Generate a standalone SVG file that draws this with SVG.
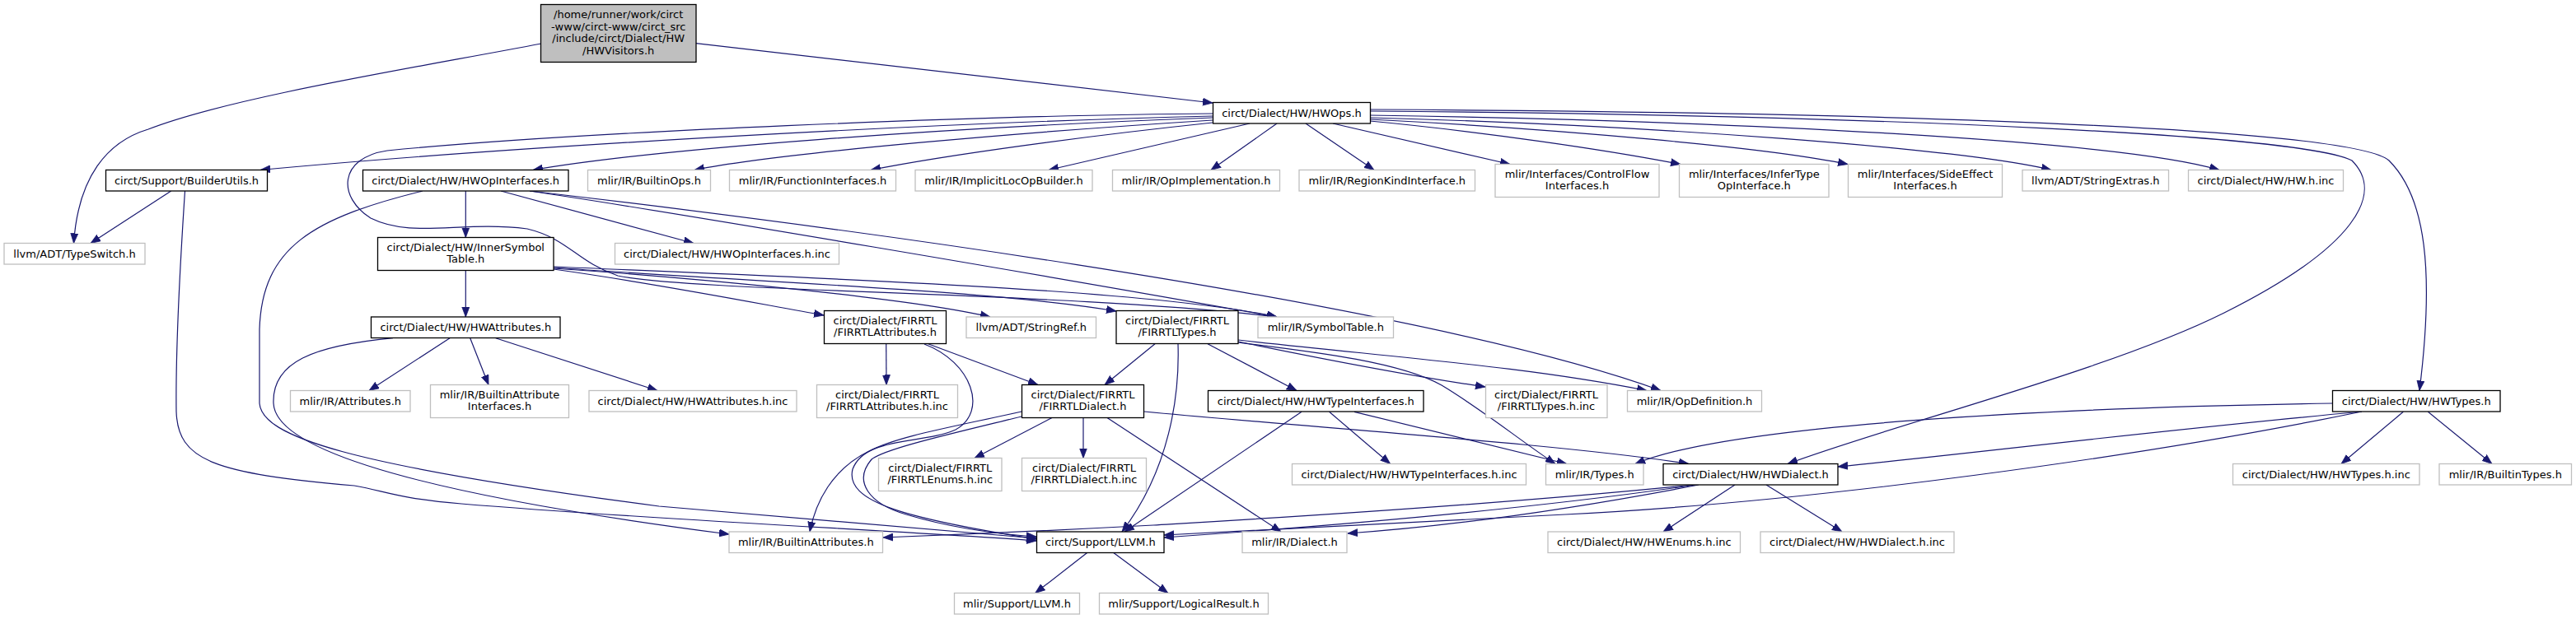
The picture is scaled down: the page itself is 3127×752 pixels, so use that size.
<svg xmlns="http://www.w3.org/2000/svg" width="3127" height="752" viewBox="0 0 3127 752">
<style>
text{font-family:"DejaVu Sans","Liberation Sans",sans-serif;font-size:13px;text-anchor:middle;fill:#000}
.n rect{fill:#fff;stroke:#000;stroke-width:1.3}
.g rect{fill:#fff;stroke:#bfbfbf;stroke-width:1.3}
.r rect{fill:#bfbfbf;stroke:#000;stroke-width:1.3}
#edges path{fill:none;stroke:#191970;stroke-width:1.2;marker-end:url(#a)}
</style>
<defs>
<marker id="a" markerUnits="userSpaceOnUse" markerWidth="12" markerHeight="10" viewBox="0 0 12 10" refX="12" refY="5" orient="auto">
<path d="M0,0.5 L12,5 L0,9.5 z" fill="#191970" stroke="#191970" stroke-width="0.8"/>
</marker>
</defs>
<rect width="3127" height="752" fill="#fff"/>
<g id="edges">
<path d="M657,53 C 500,83 280,118 180,157 C 130,172 95,215 89.5,295.5"/>
<path d="M845,52.7 L1472,125"/>
<path d="M1472,141 C 1100,150 600,180 316,206.5"/>
<path d="M1472,138 C 1200,140 700,160 470,183 C 410,192 410,240 450,265 C 500,290 560,268 640,278 C 690,290 700,318 750,335 C 850,355 1300,355 1550,385"/>
<path d="M1472,143 C 1150,155 800,180 647,206.5"/>
<path d="M1472,146 C 1250,160 950,185 843,206.5"/>
<path d="M1472,149 C 1320,165 1150,188 1057,206.5"/>
<path d="M1517,150 L1273,206.5"/>
<path d="M1550,150 L1470,206.5"/>
<path d="M1585,150 L1668,206.5"/>
<path d="M1618,150 L1833,199.5"/>
<path d="M1663,147 C 1800,160 1950,182 2040,199.5"/>
<path d="M1663,145 C 1900,157 2150,180 2243,199.5"/>
<path d="M1663,143 C 2000,152 2380,180 2490,206.5"/>
<path d="M1663,140 C 2100,147 2570,170 2694,206.5"/>
<path d="M1663,135 C 2300,140 2800,165 2855,195 C 2895,235 2860,300 2700,380 C 2560,450 2300,515 2170,563.5"/>
<path d="M1663,133 C 2400,137 2860,160 2900,195 C 2945,240 2955,330 2937,474.5"/>
<path d="M565.3,232 L565.3,288.5"/>
<path d="M608,232 L842,295.5"/>
<path d="M643,232 C 800,255 1300,340 1550,385"/>
<path d="M643,232 C 900,262 1700,360 2016,474.5"/>
<path d="M513,232 C 380,265 318,300 315,400 L315,490 C 318,530 420,565 800,615 C 1000,633 1150,645 1258,654"/>
<path d="M207.7,232 L110,295.5"/>
<path d="M224.5,232 C 220,300 213,420 214,500 C 216,560 260,575 430,590 C 470,597 480,605 560,612 C 800,632 1100,645 1258,657"/>
<path d="M565.3,328.7 L565.3,385"/>
<path d="M672,327 C 800,345 900,365 1000,383"/>
<path d="M672,326 C 850,338 1100,362 1202,385"/>
<path d="M672,325 C 900,342 1200,352 1355,378"/>
<path d="M672,324 C 1000,338 1400,352 1550,385"/>
<path d="M546,410.7 L448,474.5"/>
<path d="M570.7,410.7 L593,467.5"/>
<path d="M601.7,410.7 L798,474.5"/>
<path d="M477,410.7 C 380,420 330,440 332,490 C 335,560 600,612 885,649"/>
<path d="M1075.7,417.7 L1076,467.5"/>
<path d="M1126.7,417.7 L1260,467.5"/>
<path d="M1122,418 C 1180,440 1200,500 1160,522 C 1120,540 1050,530 1035,570 C 1025,610 1100,630 1258,655"/>
<path d="M1240,500 C 1150,520 1090,530 1055,548 C 1010,570 990,610 983,646"/>
<path d="M1240,506 C 1150,528 1075,545 1058,558 C 1035,585 1055,612 1100,625 C 1150,640 1200,648 1258,652"/>
<path d="M1277,507.5 L1183,556.5"/>
<path d="M1315,507.5 L1315,556.5"/>
<path d="M1344,507.5 L1555,646"/>
<path d="M1389,500 C 1600,520 1900,540 2050,563.5"/>
<path d="M1402,417.7 L1341,467.5"/>
<path d="M1430,417.7 C 1432,480 1420,570 1362,646"/>
<path d="M1466,417.7 L1574,474.5"/>
<path d="M1503,415 C 1600,435 1700,455 1803,470"/>
<path d="M1503,413 C 1700,435 1850,445 1999,474.5"/>
<path d="M1503,416 C 1600,428 1700,440 1750,468 C 1800,498 1845,535 1888,563.5"/>
<path d="M1613.6,500.3 L1687.6,563.5"/>
<path d="M1644,500.3 L1901.8,563.5"/>
<path d="M1580,500.3 L1365,646"/>
<path d="M2917.3,500.3 L2842,563.5"/>
<path d="M2947.4,500.3 L3025,563.5"/>
<path d="M2831.5,490 C 2500,495 2100,515 1985,563.5"/>
<path d="M2867,500 C 2600,525 2400,550 2231,567"/>
<path d="M2867,500 C 2600,555 2200,610 1900,625 C 1700,635 1550,642 1413,650"/>
<path d="M2106,589 L2019,646"/>
<path d="M2144,589 L2236,646"/>
<path d="M2062,589 C 1900,620 1750,640 1636,648"/>
<path d="M2058,589 C 1850,620 1600,640 1413,653"/>
<path d="M2055,589 C 1800,615 1500,632 1400,638 C 1250,646 1150,650 1072,653"/>
<path d="M1320,671.3 L1256.7,720.5"/>
<path d="M1351.4,671.3 L1417.8,720.5"/>
</g>
<g id="n_hwvisitors" class="r"><rect x="656.5" y="5.5" width="188.5" height="70"/><text x="750.7" y="22">/home/runner/work/circt</text><text x="750.7" y="36.5">-www/circt-www/circt_src</text><text x="750.7" y="51">/include/circt/Dialect/HW</text><text x="750.7" y="65.5">/HWVisitors.h</text></g>
<g id="n_hwops" class="n"><rect x="1472.5" y="124.5" width="191" height="25.5"/><text x="1568" y="141.5">circt/Dialect/HW/HWOps.h</text></g>
<g id="n_builderutils" class="n"><rect x="128.5" y="206.5" width="196" height="25.5"/><text x="226.5" y="223.5">circt/Support/BuilderUtils.h</text></g>
<g id="n_hwopinterfaces" class="n"><rect x="440.5" y="206.5" width="249.5" height="25.5"/><text x="565.2" y="223.5">circt/Dialect/HW/HWOpInterfaces.h</text></g>
<g id="n_builtinops" class="g"><rect x="713.5" y="206.5" width="149" height="25.5"/><text x="788" y="223.5">mlir/IR/BuiltinOps.h</text></g>
<g id="n_functioninterfaces" class="g"><rect x="885.5" y="206.5" width="202" height="25.5"/><text x="986.5" y="223.5">mlir/IR/FunctionInterfaces.h</text></g>
<g id="n_implicitloc" class="g"><rect x="1111" y="206.5" width="215" height="25.5"/><text x="1218.5" y="223.5">mlir/IR/ImplicitLocOpBuilder.h</text></g>
<g id="n_opimpl" class="g"><rect x="1350.5" y="206.5" width="203" height="25.5"/><text x="1452" y="223.5">mlir/IR/OpImplementation.h</text></g>
<g id="n_regionkind" class="g"><rect x="1577" y="206.5" width="213.5" height="25.5"/><text x="1683.8" y="223.5">mlir/IR/RegionKindInterface.h</text></g>
<g id="n_controlflow" class="g"><rect x="1815" y="199.5" width="199" height="40"/><text x="1914.5" y="215.5">mlir/Interfaces/ControlFlow</text><text x="1914.5" y="230">Interfaces.h</text></g>
<g id="n_infertype" class="g"><rect x="2038.5" y="199.5" width="181.5" height="40"/><text x="2129.3" y="215.5">mlir/Interfaces/InferType</text><text x="2129.3" y="230">OpInterface.h</text></g>
<g id="n_sideeffect" class="g"><rect x="2243.5" y="199.5" width="187" height="40"/><text x="2337" y="215.5">mlir/Interfaces/SideEffect</text><text x="2337" y="230">Interfaces.h</text></g>
<g id="n_stringextras" class="g"><rect x="2455" y="206.5" width="177.5" height="25.5"/><text x="2543.8" y="223.5">llvm/ADT/StringExtras.h</text></g>
<g id="n_hwhinc" class="g"><rect x="2656.5" y="206.5" width="188" height="25.5"/><text x="2750.5" y="223.5">circt/Dialect/HW/HW.h.inc</text></g>
<g id="n_typeswitch" class="g"><rect x="5" y="295.5" width="171" height="25.5"/><text x="90.5" y="312.5">llvm/ADT/TypeSwitch.h</text></g>
<g id="n_innersymboltable" class="n"><rect x="458.5" y="288.5" width="213.5" height="40"/><text x="565.3" y="304.5">circt/Dialect/HW/InnerSymbol</text><text x="565.3" y="319">Table.h</text></g>
<g id="n_hwopinterfacesinc" class="g"><rect x="746.5" y="295.5" width="272" height="25.5"/><text x="882.5" y="312.5">circt/Dialect/HW/HWOpInterfaces.h.inc</text></g>
<g id="n_hwattributes" class="n"><rect x="450.5" y="385" width="229.5" height="25.5"/><text x="565.3" y="402">circt/Dialect/HW/HWAttributes.h</text></g>
<g id="n_firrtlattributes" class="n"><rect x="1000.5" y="377.5" width="148" height="40"/><text x="1074.5" y="393.5">circt/Dialect/FIRRTL</text><text x="1074.5" y="408">/FIRRTLAttributes.h</text></g>
<g id="n_stringref" class="g"><rect x="1173" y="385" width="157.5" height="25.5"/><text x="1251.8" y="402">llvm/ADT/StringRef.h</text></g>
<g id="n_firrtltypes" class="n"><rect x="1355" y="377.5" width="148" height="40"/><text x="1429" y="393.5">circt/Dialect/FIRRTL</text><text x="1429" y="408">/FIRRTLTypes.h</text></g>
<g id="n_symboltable" class="g"><rect x="1527" y="385" width="164.5" height="25.5"/><text x="1609.3" y="402">mlir/IR/SymbolTable.h</text></g>
<g id="n_attributes" class="g"><rect x="352.5" y="474.5" width="145.5" height="25.5"/><text x="425.3" y="491.5">mlir/IR/Attributes.h</text></g>
<g id="n_builtinattrif" class="g"><rect x="522.5" y="467.5" width="168" height="40"/><text x="606.5" y="483.5">mlir/IR/BuiltinAttribute</text><text x="606.5" y="498">Interfaces.h</text></g>
<g id="n_hwattributesinc" class="g"><rect x="715" y="474.5" width="252" height="25.5"/><text x="841" y="491.5">circt/Dialect/HW/HWAttributes.h.inc</text></g>
<g id="n_firrtlattributesinc" class="g"><rect x="991.5" y="467.5" width="171" height="40"/><text x="1077" y="483.5">circt/Dialect/FIRRTL</text><text x="1077" y="498">/FIRRTLAttributes.h.inc</text></g>
<g id="n_firrtldialect" class="n"><rect x="1240.5" y="467.5" width="148" height="40"/><text x="1314.5" y="483.5">circt/Dialect/FIRRTL</text><text x="1314.5" y="498">/FIRRTLDialect.h</text></g>
<g id="n_hwtypeinterfaces" class="n"><rect x="1466.5" y="474.5" width="261.5" height="25.5"/><text x="1597.3" y="491.5">circt/Dialect/HW/HWTypeInterfaces.h</text></g>
<g id="n_firrtltypesinc" class="g"><rect x="1803.5" y="467.5" width="147.5" height="40"/><text x="1877" y="483.5">circt/Dialect/FIRRTL</text><text x="1877" y="498">/FIRRTLTypes.h.inc</text></g>
<g id="n_opdefinition" class="g"><rect x="1975.5" y="474.5" width="163" height="25.5"/><text x="2057" y="491.5">mlir/IR/OpDefinition.h</text></g>
<g id="n_hwtypes" class="n"><rect x="2831.5" y="474.5" width="203.5" height="25.5"/><text x="2933.3" y="491.5">circt/Dialect/HW/HWTypes.h</text></g>
<g id="n_firrtlenumsinc" class="g"><rect x="1066.5" y="556.5" width="149.5" height="40"/><text x="1141.3" y="572.5">circt/Dialect/FIRRTL</text><text x="1141.3" y="587">/FIRRTLEnums.h.inc</text></g>
<g id="n_firrtldialectinc" class="g"><rect x="1240.5" y="556.5" width="151" height="40"/><text x="1316" y="572.5">circt/Dialect/FIRRTL</text><text x="1316" y="587">/FIRRTLDialect.h.inc</text></g>
<g id="n_hwtypeinterfacesinc" class="g"><rect x="1568.5" y="563.5" width="284" height="25.5"/><text x="1710.5" y="580.5">circt/Dialect/HW/HWTypeInterfaces.h.inc</text></g>
<g id="n_types" class="g"><rect x="1876.5" y="563.5" width="118.5" height="25.5"/><text x="1935.8" y="580.5">mlir/IR/Types.h</text></g>
<g id="n_hwdialect" class="n"><rect x="2019" y="563.5" width="212" height="25.5"/><text x="2125" y="580.5">circt/Dialect/HW/HWDialect.h</text></g>
<g id="n_hwtypesinc" class="g"><rect x="2710.5" y="563.5" width="226.5" height="25.5"/><text x="2823.8" y="580.5">circt/Dialect/HW/HWTypes.h.inc</text></g>
<g id="n_builtintypes" class="g"><rect x="2961" y="563.5" width="160.5" height="25.5"/><text x="3041.3" y="580.5">mlir/IR/BuiltinTypes.h</text></g>
<g id="n_builtinattributes" class="g"><rect x="885" y="646" width="186.5" height="25.5"/><text x="978.3" y="663">mlir/IR/BuiltinAttributes.h</text></g>
<g id="n_circtllvm" class="n"><rect x="1258.5" y="646" width="154.5" height="25.5"/><text x="1335.8" y="663">circt/Support/LLVM.h</text></g>
<g id="n_dialect" class="g"><rect x="1508" y="646" width="127" height="25.5"/><text x="1571.5" y="663">mlir/IR/Dialect.h</text></g>
<g id="n_hwenumsinc" class="g"><rect x="1879" y="646" width="233.5" height="25.5"/><text x="1995.8" y="663">circt/Dialect/HW/HWEnums.h.inc</text></g>
<g id="n_hwdialectinc" class="g"><rect x="2137" y="646" width="235" height="25.5"/><text x="2254.5" y="663">circt/Dialect/HW/HWDialect.h.inc</text></g>
<g id="n_mlirllvm" class="g"><rect x="1158.5" y="720.5" width="152" height="25.5"/><text x="1234.5" y="737.5">mlir/Support/LLVM.h</text></g>
<g id="n_logicalresult" class="g"><rect x="1334.5" y="720.5" width="205" height="25.5"/><text x="1437" y="737.5">mlir/Support/LogicalResult.h</text></g>
</svg>
